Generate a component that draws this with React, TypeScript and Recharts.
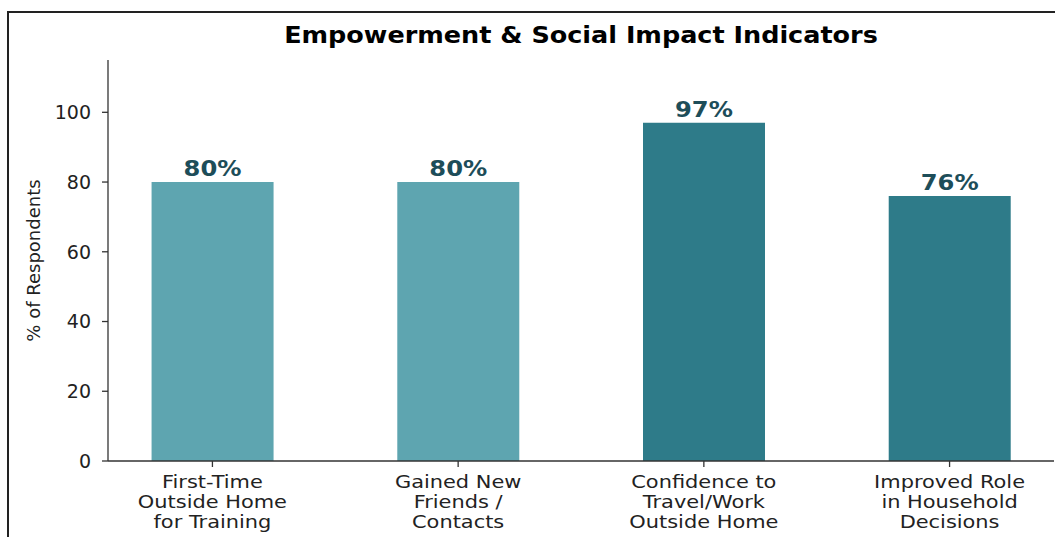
import React from 'react';
import { BarChart, Bar, XAxis, YAxis, Cell, LabelList } from 'recharts';

const CATEGORIES = [
  'First-Time\nOutside Home\nfor Training',
  'Gained New\nFriends /\nContacts',
  'Confidence to\nTravel/Work\nOutside Home',
  'Improved Role\nin Household\nDecisions',
];
const VALUES = [80, 80, 97, 76];
const Y_TICKS = [0, 20, 40, 60, 80, 100];
const TITLE = 'Empowerment & Social Impact Indicators';
const Y_LABEL = '% of Respondents';

const COLORS = ['#5ea5b0', '#5ea5b0', '#2e7b89', '#2e7b89'];
const FONT = '"DejaVu Sans", sans-serif';

const data = CATEGORIES.map((c, i) => ({ idx: i, name: c, value: VALUES[i] }));

const stretchAt = (x: number, s: number) => `translate(${x} 0) scale(${s} 1) translate(${-x} 0)`;

const XTick = (props: any) => {
  const { x, y, payload } = props;
  const lines = (CATEGORIES[payload.value] || '').split('\n');
  return (
    <g>
      {lines.map((l, i) => (
        <text key={i} x={x} y={y + 19 + i * 20} textAnchor="middle" fill="#222" fontSize={17} fontFamily={FONT} transform={stretchAt(x, 1.23)}>
          {l}
        </text>
      ))}
    </g>
  );
};

const YLabel = (props: any) => {
  const vb = props.viewBox || {};
  const cy = vb.y + vb.height / 2;
  const cx = 33;
  return (
    <text x={cx} y={cy} transform={`rotate(-90 ${cx} ${cy})`} textAnchor="middle" dominantBaseline="central" fill="#222" fontSize={18} fontFamily={FONT}>
      {Y_LABEL}
    </text>
  );
};

const ValueLabel = (props: any) => {
  const { x, y, width, value } = props;
  const cx = x + width / 2;
  return (
    <text x={cx} y={y - 6} textAnchor="middle" fill="#1d4d59" fontSize={22} fontWeight="bold" fontFamily={FONT} transform={stretchAt(cx, 1.1)}>
      {`${value}%`}
    </text>
  );
};

export default function App() {
  return (
    <div style={{ position: 'absolute', left: 0, top: 0, width: 1055, height: 537, background: '#fff', overflow: 'hidden' }}>
      <div style={{ position: 'absolute', left: 7, top: 11, width: 1048, height: 2, background: '#222' }} />
      <div style={{ position: 'absolute', left: 7, top: 11, width: 2, height: 526, background: '#222' }} />
      <div style={{ position: 'absolute', left: 108, width: 946, top: 24, textAlign: 'center', fontFamily: FONT, fontWeight: 'bold', fontSize: 23, lineHeight: '23px', color: '#000', transform: 'scaleX(1.108)', transformOrigin: '473px 50%' }}>
        {TITLE}
      </div>
      <div style={{ position: 'absolute', left: 0, top: 0 }}>
        <BarChart width={1055} height={537} data={data} margin={{ top: 60, right: 1, bottom: 6, left: 8 }}>
          <XAxis
            type="number"
            dataKey="idx"
            domain={[-0.425, 3.425]}
            ticks={[0, 1, 2, 3]}
            allowDataOverflow
            interval={0}
            height={70}
            tick={<XTick />}
            tickSize={6}
            tickMargin={2}
            axisLine={{ stroke: '#333', strokeWidth: 1.3 }}
            tickLine={{ stroke: '#333', strokeWidth: 1.3 }}
          />
          <YAxis
            type="number"
            domain={[0, 115]}
            ticks={Y_TICKS}
            width={100}
            allowDataOverflow
            tick={{ fill: '#222', fontSize: 19, fontFamily: FONT }}
            tickSize={6}
            tickMargin={11}
            axisLine={{ stroke: '#333', strokeWidth: 1.3 }}
            tickLine={{ stroke: '#333', strokeWidth: 1.3 }}
            label={<YLabel />}
          />
          <Bar dataKey="value" barSize={122} isAnimationActive={false}>
            {data.map((d, i) => (
              <Cell key={i} fill={COLORS[i]} />
            ))}
            <LabelList dataKey="value" content={<ValueLabel />} />
          </Bar>
        </BarChart>
      </div>
    </div>
  );
}
